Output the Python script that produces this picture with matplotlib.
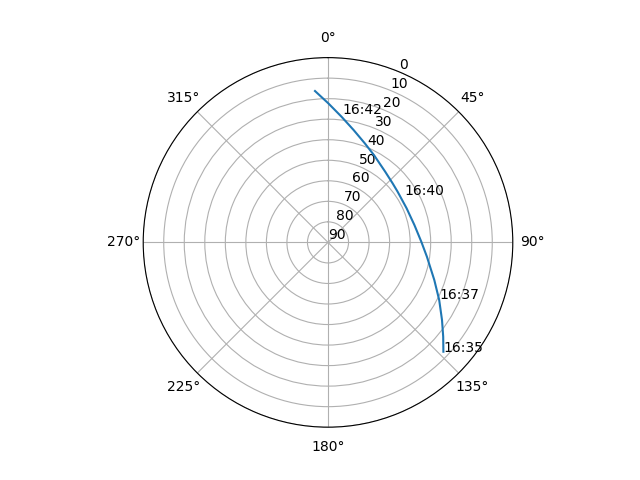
import numpy as np
import matplotlib
matplotlib.use("Agg")
from matplotlib import pyplot as plt

# satellite pass track, azimuth (deg) / elevation (deg)
az = [133.45, 129.30, 124.24, 117.39, 109.48, 98.23, 89.57, 78.61, 66.54,
      53.92, 47.54, 38.97, 27.71, 20.37, 12.83, 6.13, 0.12, -4.91]
el = [12.59, 17.50, 22.84, 29.01, 35.09, 41.33, 44.56, 47.08, 48.27,
      48.06, 47.36, 45.71, 41.92, 38.52, 33.86, 28.43, 22.26, 16.0]

# time labels along the track
label_times = ['16:35', '16:37', '16:40', '16:42']
label_az = [133.5, 117.0, 57.9, 6.4]
label_el = [12.5, 29.2, 46.3, 27.1]

fig = plt.figure(figsize=(6.4, 4.8), dpi=100)
ax = fig.add_subplot(projection='polar')
ax.set_theta_zero_location('N')
ax.set_theta_direction(-1)

ax.plot(np.radians(az), el)
for t, a, e in zip(label_times, label_az, label_el):
    ax.text(np.radians(a), e, t)

ax.set_ylim(90, 0)
ax.set_yticks(range(0, 91, 10))
ax.grid(True)

fig.savefig('out.png')
